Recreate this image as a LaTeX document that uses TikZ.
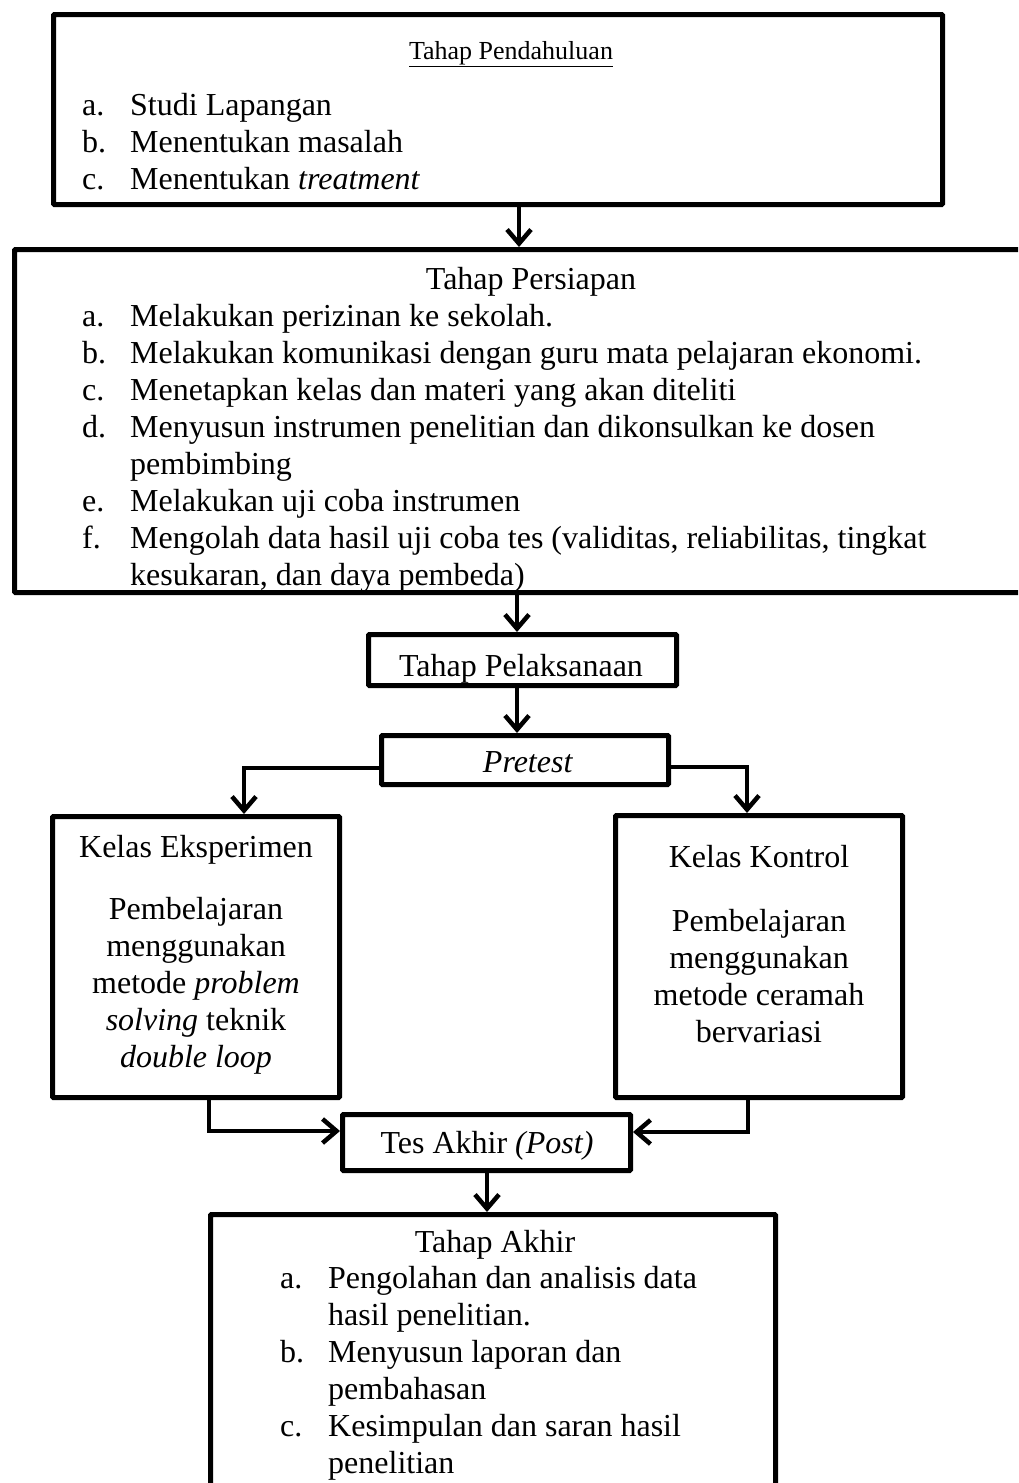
\documentclass[tikz,border=0pt]{standalone}
\usepackage{fontspec}
\setmainfont{Liberation Serif}
\usetikzlibrary{arrows.meta}
\tikzset{
  box/.style={draw, line width=5pt, inner sep=0pt, rounded corners=1pt},
  txt/.style={inner sep=0pt, font=\fontsize{32}{37}\selectfont},
  smalltxt/.style={inner sep=0pt, font=\fontsize{26}{30}\selectfont},
  arr/.style={line width=4.5pt, -{Straight Barb[length=14pt,width=24pt]}}
}
\begin{document}
\begin{tikzpicture}[x=1pt,y=-1pt]
\useasboundingbox (0,0) rectangle (1018,1483);
\clip (0,0) rectangle (1018,1483);
\fill[white] (0,0) rectangle (1018,1483);

% texts: Tahap Pendahuluan
\node[smalltxt, anchor=base] (h1) at (511,59) {\underline{Tahap Pendahuluan}};
\node[txt, anchor=base west] (l1) at (82,115) {\begin{tabular}[t]{@{}p{48pt}@{}l@{}}
a. & Studi Lapangan\\
b. & Menentukan masalah\\
c. & Menentukan \textit{treatment}
\end{tabular}};

% Tahap Persiapan
\node[txt, anchor=base] (h2) at (531,289) {Tahap Persiapan};
\node[txt, anchor=base west] (l2) at (82,326) {\begin{tabular}[t]{@{}p{48pt}@{}l@{}}
a. & Melakukan perizinan ke sekolah.\\
b. & Melakukan komunikasi dengan guru mata pelajaran ekonomi.\\
c. & Menetapkan kelas dan materi yang akan diteliti\\
d. & Menyusun instrumen penelitian dan dikonsulkan ke dosen\\
   & pembimbing\\
e. & Melakukan uji coba instrumen\\
f. & Mengolah data hasil uji coba tes (validitas, reliabilitas, tingkat\\
   & kesukaran, dan daya pembeda)
\end{tabular}};

% Pelaksanaan, Pretest
\node[txt, anchor=base] (h3) at (521,676) {Tahap Pelaksanaan};
\node[txt, anchor=base] (h4) at (528,772) {\textit{Pretest}};

% Kelas Eksperimen
\node[txt, anchor=base] (h5) at (196,857) {Kelas Eksperimen};
\node[txt, anchor=base] (p5) at (196,919) {\begin{tabular}[t]{@{}c@{}}
Pembelajaran\\
menggunakan\\
metode \textit{problem}\\
\textit{solving} teknik\\
\textit{double loop}
\end{tabular}};

% Kelas Kontrol
\node[txt, anchor=base] (h6) at (759,867) {Kelas Kontrol};
\node[txt, anchor=base] (p6) at (759,931) {\begin{tabular}[t]{@{}c@{}}
Pembelajaran\\
menggunakan\\
metode ceramah\\
bervariasi
\end{tabular}};

% Tes Akhir
\node[txt, anchor=base] (h7) at (487,1153) {Tes Akhir \textit{(Post)}};

% Tahap Akhir
\node[txt, anchor=base] (h8) at (495,1252) {Tahap Akhir};
\node[txt, anchor=base west] (l8) at (280,1288) {\begin{tabular}[t]{@{}p{48pt}@{}l@{}}
a. & Pengolahan dan analisis data\\
   & hasil penelitian.\\
b. & Menyusun laporan dan\\
   & pembahasan\\
c. & Kesimpulan dan saran hasil\\
   & penelitian
\end{tabular}};

% boxes (drawn after the text so borders cover descenders, as in the reference)
\node[box, minimum width=889pt, minimum height=190pt] (b1) at (498,109.5) {};
\node[box, minimum width=1025.5pt, minimum height=343pt] (b2) at (527.25,421) {};
\node[box, minimum width=308pt, minimum height=51pt] (pel) at (522.5,660) {};
\node[box, minimum width=287pt, minimum height=49pt] (pre) at (525,760) {};
\node[box, minimum width=287pt, minimum height=281pt] (eks) at (196,957) {};
\node[box, minimum width=287pt, minimum height=282pt] (kon) at (759,956.5) {};
\node[box, minimum width=288pt, minimum height=56pt] (tes) at (486.5,1142.5) {};
\node[box, minimum width=565pt, minimum height=285.5pt] (akh) at (493,1357.25) {};

% connectors
\coordinate (c1) at (519,0);
\coordinate (c2) at (517,0);
\coordinate (c4) at (244,768);
\coordinate (c5) at (747,767);
\coordinate (c6) at (209,1131);
\coordinate (c7) at (748,1132);
\coordinate (c8) at (487,0);
\draw[arr] (b1.south -| c1) -- (b2.north -| c1);
\draw[arr] (b2.south -| c2) -- (pel.north -| c2);
\draw[arr] (pel.south -| c2) -- (pre.north -| c2);
\draw[arr] (pre.west |- c4) -- (c4) -- (eks.north -| c4);
\draw[arr] (pre.east |- c5) -- (c5) -- (kon.north -| c5);
\draw[arr] (eks.south -| c6) -- (c6) -- (tes.west |- c6);
\draw[arr] (kon.south -| c7) -- (c7) -- (tes.east |- c7);
\draw[arr] (tes.south -| c8) -- (akh.north -| c8);
\end{tikzpicture}
\end{document}
